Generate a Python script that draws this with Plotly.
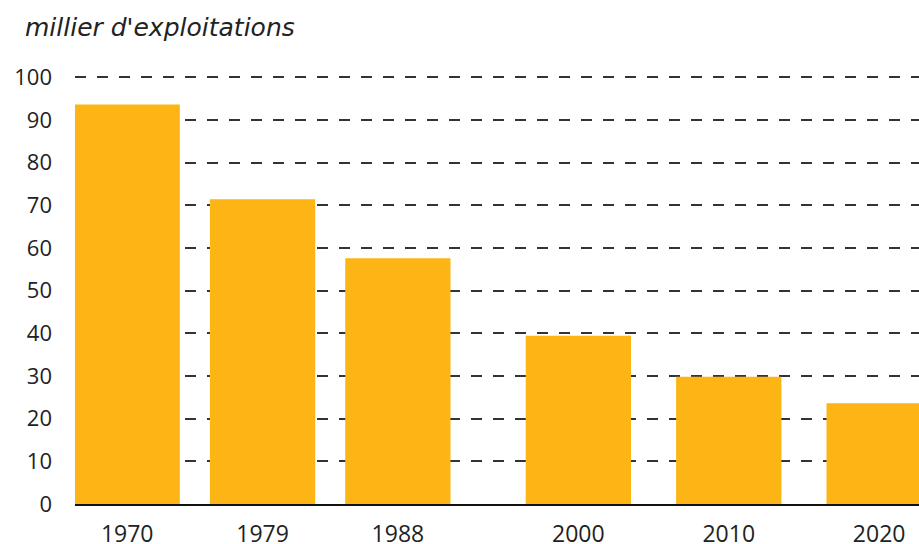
import plotly.graph_objects as go

years = [1970, 1979, 1988, 2000, 2010, 2020]
values = [93.6, 71.4, 57.6, 39.4, 29.8, 23.6]
year_labels = ["1970", "1979", "1988", "2000", "2010", "2020"]
y_ticks = [0, 10, 20, 30, 40, 50, 60, 70, 80, 90, 100]
unit_label = "millier d'exploitations"

W, H = 919, 544
ML, MR, MT, MB = 75, 0, 75, 40
PW = W - ML - MR
PH = H - MT - MB

fig = go.Figure()
fig.add_trace(go.Bar(
    x=years, y=values, width=7,
    marker=dict(color="#FDB515", line=dict(width=0)),
    hoverinfo="x+y",
))

fig.update_layout(
    width=W, height=H,
    margin=dict(l=ML, r=MR, t=MT, b=MB, pad=0, autoexpand=False),
    plot_bgcolor="white", paper_bgcolor="white",
    showlegend=False,
    font=dict(family="Open Sans", size=20, color="#222222"),
    xaxis=dict(
        range=[1966.53, 2022.65], automargin=False,
        tickmode="array", tickvals=years, ticktext=year_labels,
        showgrid=False, zeroline=False,
        showline=True, linecolor="#111111", linewidth=2,
        ticks="", ticklabelstandoff=8,
        tickfont=dict(size=23, color="#222222"),
    ),
    yaxis=dict(
        range=[0, 100.5], automargin=False,
        tickmode="array", tickvals=y_ticks,
        showgrid=True, gridcolor="#333333", gridwidth=2, griddash="11px,11px",
        zeroline=False, showline=False,
        ticks="", ticklabelstandoff=22,
        tickfont=dict(size=22, color="#222222"),
    ),
    annotations=[dict(
        text="<i>" + unit_label + "</i>",
        xref="paper", yref="paper",
        x=(23 - ML) / PW, xanchor="left",
        y=1 + (MT - 27) / PH, yanchor="middle",
        showarrow=False,
        font=dict(family="DejaVu Sans", size=25, color="#222222"),
    )],
)

fig.write_html(
    "out.html",
    config={"displayModeBar": False},
    post_script="document.body.style.margin='0';document.body.style.overflow='hidden';",
)
